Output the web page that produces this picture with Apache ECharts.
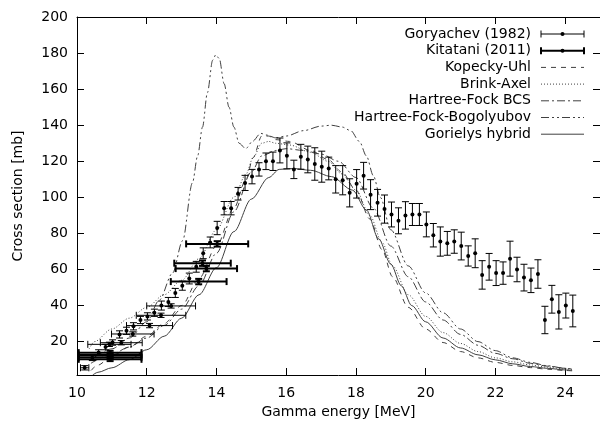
<!DOCTYPE html>
<html><head><meta charset="utf-8">
<script src="https://cdn.jsdelivr.net/npm/echarts@6/dist/echarts.min.js"></script>
<style>html,body{margin:0;padding:0;background:#fff}#c{width:600px;height:426px}</style>
</head><body><div id="c"></div>
<script>
// ---- tick labels ----
const xTicks = [10, 12, 14, 16, 18, 20, 22, 24];
const yTicks = [20, 40, 60, 80, 100, 120, 140, 160, 180, 200];

// ---- Goryachev (1982): energy, cross section, d(sigma), d(E) ----
const gorE = [10.44,10.62,10.82,11.02,11.22,11.42,11.62,11.82,12.02,12.22,12.42,12.62,12.82,13.02,13.22,13.42,13.62,13.82,14.02,14.22,14.42,14.62,14.82,15.02,15.22,15.42,15.62,15.82,16.02,16.22,16.42,16.62,16.82,17.02,17.22,17.42,17.62,17.82,18.02,18.22,18.42,18.62,18.82,19.02,19.22,19.42,19.62,19.82,20.02,20.22,20.42,20.62,20.82,21.02,21.22,21.42,21.62,21.82,22.02,22.22,22.42,22.62,22.82,23.02,23.22,23.42,23.62,23.82,24.02,24.22,
  12.70,12.41,12.08,11.60,11.27,10.93,10.22];
const gorS = [11,14,17,19.5,24,26,28.5,32,34,36,40,42,47,51,55,61.5,69,75,83,94,94,102,108,111.5,115.5,120,120,126,123,115.5,122.5,121,118.5,117,116,110,109.5,102.5,107.5,112,101.5,97,93.5,90.5,87,90,90.5,90.5,85,79,75.5,74.5,75.5,73,67.5,69,57,61.5,58,58,66,60,55.5,54,57.5,32,43.5,36.5,40,37,
  39.8,34.6,28.9,24.25,19.4,18.5,5.5];
const gorDS = [1.5,1.5,1.5,1.5,2,2,2,2,2,2,2.5,2.5,2.5,2.5,3,3,3,3,3.7,3.7,3.7,3.5,4.2,4,3.7,4.6,5.1,6.9,7.2,5.1,6.9,7.4,9,8.6,6.3,7.6,8.1,7.8,7.9,7.4,8.3,7.4,7.8,6.9,7.2,7.6,6.1,6.1,6.9,6.5,8.1,6.6,6.5,7.7,5.6,8,7.9,7.4,6.9,6.2,9.7,6.8,7.4,6.8,7.9,7.6,7.7,9.5,6.9,8.8,
  1.2,1.2,1.2,1.2,1.2,1.2,1.2];
const gorDE = [0,0,0,0,0,0,0,0,0,0,0,0,0,0,0,0,0,0,0,0,0,0,0,0,0,0,0,0,0,0,0,0,0,0,0,0,0,0,0,0,0,0,0,0,0,0,0,0,0,0,0,0,0,0,0,0,0,0,0,0,0,0,0,0,0,0,0,0,0,0,
  0.70,0.71,0.66,0.61,0.60,0.62,0.12];

// ---- Kitatani (2011) ----
const kitE  = [14.02,13.60,13.71,13.49,10.95,10.95,10.95,10.95];
const kitS  = [74.2,63.5,60.5,53.3,13.9,12.6,11.3,10.2];
const kitDS = [1.5,1.5,1.5,1.5,1.0,1.0,1.0,1.0];
const kitDE = [0.89,0.81,0.88,0.80,0.9,0.9,0.9,0.9];

// ---- model curves ----
const kuE = [10.4,10.6,11,11.5,12,12.5,13,13.5,14,14.5,14.85,15.05,15.3,15.5,15.7,16.1,16.7,17.2,17.6,18,18.4,18.75,19.05,19.5,20,20.5,21,21.5,22,22.5,23,23.5,24,24.2];
const kuS = [4,7,12,17,23,30,40,55,73,94,110,122,134,134,132,131,126,121,114,104,88,71,56,39,27,19.5,14.5,11,8.5,6.8,5.6,4.7,4.0,3.8];

const baE = [10.35,10.5,11,11.5,12,12.5,13,13.5,14,14.5,14.85,15.05,15.3,15.5,15.7,16.1,16.7,17.2,17.6,18,18.4,18.75,19.05,19.5,20,20.5,21,21.5,22,22.5,23,23.5,24,24.2];
const baS = [16,20,27,33,39,46,54,66,82,100,113,122,130,131,130,129,125,120,113,104,90,75,62,46,34,25,19,14.5,11,8.8,7.1,5.8,4.8,4.5];

const bcsE = [10.4,11,11.5,12,12.5,13,13.5,14,14.5,15,15.3,15.7,16,16.5,17,17.5,18,18.5,19,19.5,20,20.5,21,21.5,22,22.5,23,23.5,24,24.2];
const bcsS = [8,13,17,22,29,38,51,69,92,114,123,126,127,126,124,120,111,94,73,56,42,32,24,18,13.5,10.5,8,6.4,5.2,4.8];

const hfbE = [10.4,11,11.5,12,12.36,12.74,13.03,13.31,13.46,13.6,13.74,13.89,13.98,14.08,14.22,14.36,14.5,14.65,14.84,15.03,15.27,15.45,15.7,16,16.5,17,17.3,17.6,17.85,18.1,18.3,18.5,18.7,19,19.5,20,20.5,21,21.5,22,22.5,23,23.5,24,24.2];
const hfbS = [10,16,22,31,43,58,76,108,123,139,158,176,179,177,163,150,139,130,127,131,135.5,134.5,133,134,137,139.5,140,139,137,131,123,112,100,82,62,47,36,27,20,15,11,8.5,6.6,5.2,4.8];

const ghE = [10.45,10.6,11,11.5,12,12.5,13,13.5,14,14.5,15,15.5,15.8,16.2,16.7,17.3,17.9,18.3,18.65,19,19.3,19.6,20,20.5,21,21.5,22,22.5,23,23.5,24,24.2];
const ghS = [1.5,3,5.5,10,15.5,23,33,46,61,81,99,111,115.5,116,115,111.5,104,93,77,63,51,40,31,22,16.5,12.7,9.9,7.7,6.2,5.2,4.3,4];

const legendNames = ['Goryachev (1982)','Kitatani (2011)','Kopecky-Uhl','Brink-Axel','Hartree-Fock BCS','Hartree-Fock-Bogolyubov','Gorielys hybrid'];

// ---- helpers ----
const zip = (a, b) => a.map((v, i) => [v, b[i]]);
const zip4 = (a, b, c, d) => a.map((v, i) => [v, b[i], c[i], d[i]]);
const FONT = 'DejaVu Sans';
const CURVE = '#404040';

function errRender(lw) {
  return function (params, api) {
    const e = api.value(0), s = api.value(1), ds = api.value(2), de = api.value(3);
    const c = api.coord([e, s]);
    const ch = [];
    const st = { stroke: '#000', lineWidth: lw };
    if (ds > 0) {
      const a = api.coord([e, s - ds]), b = api.coord([e, s + ds]);
      ch.push({ type: 'line', shape: { x1: a[0], y1: a[1], x2: b[0], y2: b[1] }, style: st });
      ch.push({ type: 'line', shape: { x1: a[0] - 3.5, y1: a[1], x2: a[0] + 3.5, y2: a[1] }, style: st });
      ch.push({ type: 'line', shape: { x1: b[0] - 3.5, y1: b[1], x2: b[0] + 3.5, y2: b[1] }, style: st });
    }
    if (de > 0) {
      const a = api.coord([e - de, s]), b = api.coord([e + de, s]);
      ch.push({ type: 'line', shape: { x1: a[0], y1: a[1], x2: b[0], y2: b[1] }, style: st });
      ch.push({ type: 'line', shape: { x1: a[0], y1: a[1] - 3.5, x2: a[0], y2: a[1] + 3.5 }, style: st });
      ch.push({ type: 'line', shape: { x1: b[0], y1: b[1] - 3.5, x2: b[0], y2: b[1] + 3.5 }, style: st });
    }
    ch.push({ type: 'circle', shape: { cx: c[0], cy: c[1], r: 2 }, style: { fill: '#000' } });
    return { type: 'group', children: ch };
  };
}

function curve(name, e, s, dash, w) {
  return {
    name, type: 'line', data: zip(e, s), showSymbol: false, symbol: 'none',
    smooth: 0.3, smoothMonotone: 'x', clip: true,
    lineStyle: { color: CURVE, width: w || 1, type: dash }, z: 2
  };
}

// ---- legend (drawn as graphic) ----
const graphics = [];
const lx0 = 541, lx1 = 584, ltx = 531;
legendNames.forEach((n, i) => {
  const y = 34 + i * 16.7;
  graphics.push({ type: 'text', left: null, x: ltx, y: y, style: { text: n, font: '14px ' + FONT, fill: '#000', align: 'right', verticalAlign: 'middle' } });
});
[1, 2].forEach((lw, i) => {
  const y = 34 + i * 16.7;
  graphics.push({ type: 'line', shape: { x1: lx0, y1: y, x2: lx1, y2: y }, style: { stroke: '#000', lineWidth: lw } });
  graphics.push({ type: 'line', shape: { x1: lx0, y1: y - 3.5, x2: lx0, y2: y + 3.5 }, style: { stroke: '#000', lineWidth: lw } });
  graphics.push({ type: 'line', shape: { x1: lx1, y1: y - 3.5, x2: lx1, y2: y + 3.5 }, style: { stroke: '#000', lineWidth: lw } });
  graphics.push({ type: 'circle', shape: { cx: (lx0 + lx1) / 2, cy: y, r: 2 }, style: { fill: '#000' } });
});
const dashes = [[5, 5], [1, 2], [8, 3, 2, 3], [8, 3, 2, 3, 2, 3], 'solid'];
dashes.forEach((d, k) => {
  const y = 34 + (k + 2) * 16.7;
  graphics.push({ type: 'line', shape: { x1: lx0, y1: y, x2: lx1, y2: y }, style: { stroke: CURVE, lineWidth: 1, lineDash: d === 'solid' ? null : d } });
});

const xAxisBase = {
  type: 'value', min: 10, max: 25,
  axisLine: { show: true, onZero: false, lineStyle: { color: '#000', width: 1 } },
  axisTick: { show: true, inside: true, length: 7, customValues: xTicks, lineStyle: { color: '#000' } },
  splitLine: { show: false }
};
const yAxisBase = {
  type: 'value', min: 1.5, max: 200,
  axisLine: { show: true, onZero: false, lineStyle: { color: '#000', width: 1 } },
  axisTick: { show: true, inside: true, length: 7, customValues: yTicks, lineStyle: { color: '#000' } },
  splitLine: { show: false }
};

const option = {
  animation: false,
  backgroundColor: '#fff',
  grid: { left: 77, right: -2, top: 17, bottom: 51, containLabel: false },
  xAxis: [
    Object.assign({}, xAxisBase, {
      position: 'bottom',
      axisLabel: { show: true, customValues: xTicks, margin: 11, color: '#000', fontSize: 14, fontFamily: FONT },
      name: 'Gamma energy [MeV]', nameLocation: 'middle', nameGap: 30,
      nameTextStyle: { color: '#000', fontSize: 14, fontFamily: FONT }
    }),
    Object.assign({}, xAxisBase, { position: 'top', axisLabel: { show: false } })
  ],
  yAxis: [
    Object.assign({}, yAxisBase, {
      position: 'left',
      axisLabel: { show: true, customValues: yTicks, margin: 9, color: '#000', fontSize: 14, fontFamily: FONT },
      name: 'Cross section [mb]', nameLocation: 'middle', nameGap: 52,
      nameTextStyle: { color: '#000', fontSize: 14, fontFamily: FONT }
    }),
    Object.assign({}, yAxisBase, { position: 'right', axisLabel: { show: false } })
  ],
  graphic: graphics,
  series: [
    curve('Kopecky-Uhl', kuE, kuS, [5, 5]),
    curve('Brink-Axel', baE, baS, [1, 2]),
    curve('Hartree-Fock BCS', bcsE, bcsS, [8, 3, 2, 3]),
    curve('Hartree-Fock-Bogolyubov', hfbE, hfbS, [8, 3, 2, 3, 2, 3]),
    curve('Gorielys hybrid', ghE, ghS, 'solid'),
    { name: 'Goryachev (1982)', type: 'custom', clip: true, renderItem: errRender(1), data: zip4(gorE, gorS, gorDS, gorDE), z: 5, encode: { x: 0, y: 1 } },
    { name: 'Kitatani (2011)', type: 'custom', clip: true, renderItem: errRender(2), data: zip4(kitE, kitS, kitDS, kitDE), z: 6, encode: { x: 0, y: 1 } }
  ]
};
const chart = echarts.init(document.getElementById('c'), null, { renderer: 'canvas' });
chart.setOption(option);
</script></body></html>
